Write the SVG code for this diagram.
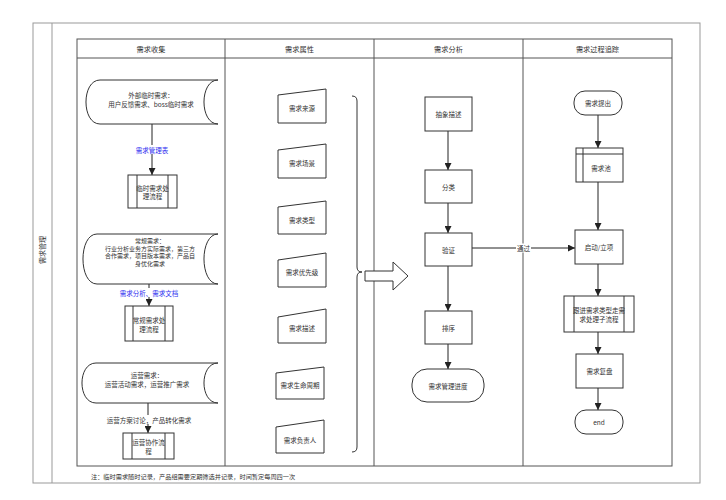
<svg xmlns="http://www.w3.org/2000/svg" width="726" height="500" viewBox="0 0 726 500">
<defs>
<marker id="ah" viewBox="0 0 10 10" refX="10" refY="5" markerWidth="7" markerHeight="7" orient="auto" markerUnits="userSpaceOnUse">
<path d="M0,0 L10,5 L0,10 Z" fill="#222"/>
</marker>
<style>
text{font-family:"Noto Sans CJK SC","Liberation Sans",sans-serif;fill:#333;font-size:6.5px;text-anchor:middle;dominant-baseline:central}
.hd{font-size:7.2px}
.sm{font-size:6px}
.bl{fill:#3030f0}
.sh{fill:#fff;stroke:#333;stroke-width:1}
.ln{stroke:#333;stroke-width:1;fill:none}
.cn{stroke:#222;stroke-width:1;fill:none;marker-end:url(#ah)}
.lane{fill:none;stroke:#555;stroke-width:1}
</style>
</defs>
<rect width="726" height="500" fill="#fff"/>
<g id="pool">
<rect x="33" y="23" width="667" height="460" fill="none" stroke="#999" stroke-width="1"/>
<line x1="52" y1="23" x2="52" y2="483" stroke="#999" stroke-width="1"/>
<text transform="translate(42,250) rotate(-90)" style="font-size:7px">需求管理</text>
</g>
<g id="table">
<rect x="77" y="39" width="595" height="427" class="lane"/>
<line x1="77" y1="58" x2="672" y2="58" class="lane"/>
<line x1="225" y1="39" x2="225" y2="466" class="lane"/>
<line x1="374" y1="39" x2="374" y2="466" class="lane"/>
<line x1="523" y1="39" x2="523" y2="466" class="lane"/>
<text x="151" y="48.5" class="hd">需求收集</text>
<text x="299.5" y="48.5" class="hd">需求属性</text>
<text x="448.5" y="48.5" class="hd">需求分析</text>
<text x="597.5" y="48.5" class="hd">需求过程追踪</text>
</g>
<g id="connectors">
<line x1="152" y1="124" x2="152" y2="175" class="cn"/>
<line x1="149" y1="284" x2="149" y2="306" class="cn"/>
<line x1="148" y1="403" x2="148" y2="433" class="cn"/>
<line x1="448" y1="131" x2="448" y2="170" class="cn"/>
<line x1="448" y1="203" x2="448" y2="233" class="cn"/>
<line x1="448" y1="266" x2="448" y2="311" class="cn"/>
<line x1="448" y1="344" x2="448" y2="369" class="cn"/>
<line x1="472" y1="248" x2="575" y2="248" class="cn"/>
<line x1="598" y1="115" x2="598" y2="148" class="cn"/>
<line x1="598" y1="182" x2="598" y2="230" class="cn"/>
<line x1="598" y1="264" x2="598" y2="296" class="cn"/>
<line x1="598" y1="332" x2="598" y2="354" class="cn"/>
<line x1="598" y1="388" x2="598" y2="410" class="cn"/>
<rect x="133" y="145" width="38" height="9" fill="#fff"/>
<text x="152" y="149.5" class="bl">需求管理表</text>
<rect x="118" y="288" width="62" height="9" fill="#fff"/>
<text x="149" y="292.5" class="bl">需求分析、需求文档</text>
<rect x="105" y="415" width="88" height="9" fill="#fff"/>
<text x="149" y="419.5">运营方案讨论，产品转化需求</text>
<rect x="516" y="243.5" width="15" height="9" fill="#fff"/>
<text x="523.5" y="247.5">通过</text>
</g>
<g id="n-ext">
<path class="sh" d="M100,80 H218 C199.3,80 199.3,124 218,124 H100 C81.3,124 81.3,80 100,80 Z"/>
<text x="151" y="95">外部临时需求：</text>
<text x="151" y="103.5">用户反馈需求、boss临时需求</text>
</g>
<g id="n-tmp">
<rect x="128" y="175" width="49" height="33" class="sh"/>
<line x1="137" y1="175" x2="137" y2="208" class="ln"/>
<line x1="168" y1="175" x2="168" y2="208" class="ln"/>
<text x="152.5" y="187.5">临时需求处</text>
<text x="152.5" y="196">理流程</text>
</g>
<g id="n-reg">
<path class="sh" d="M97,234 H218 C199.3,234 199.3,284 218,284 H97 C78.3,284 78.3,234 97,234 Z"/>
<text x="150" y="240.5" class="sm">常规需求：</text>
<text x="150" y="248" class="sm">行业分析业务方实际需求，第三方</text>
<text x="150" y="255.5" class="sm">合作需求，项目版本需求，产品自</text>
<text x="150" y="263" class="sm">身优化需求</text>
</g>
<g id="n-regp">
<rect x="125" y="306" width="48" height="35" class="sh"/>
<line x1="133" y1="306" x2="133" y2="341" class="ln"/>
<line x1="165" y1="306" x2="165" y2="341" class="ln"/>
<text x="149" y="320">常规需求处</text>
<text x="149" y="328.5">理流程</text>
</g>
<g id="n-ops">
<path class="sh" d="M96,363 H218 C199.3,363 199.3,403 218,403 H96 C77.3,403 77.3,363 96,363 Z"/>
<text x="147" y="375">运营需求：</text>
<text x="147" y="383.5">运营活动需求，运营推广需求</text>
</g>
<g id="n-opsp">
<rect x="123" y="433" width="51" height="26" class="sh"/>
<line x1="132" y1="433" x2="132" y2="459" class="ln"/>
<line x1="165" y1="433" x2="165" y2="459" class="ln"/>
<text x="148.5" y="442">运营协作流</text>
<text x="148.5" y="451">程</text>
</g>
<g id="a-src"><polygon class="sh" points="278,95 326,89 326,123 278,123"/><text x="302" y="108">需求来源</text></g>
<g id="a-scene"><polygon class="sh" points="278,150 326,144 326,178 278,178"/><text x="302" y="163">需求场景</text></g>
<g id="a-type"><polygon class="sh" points="278,207 326,201 326,234 278,234"/><text x="302" y="220">需求类型</text></g>
<g id="a-pri"><polygon class="sh" points="278,260 326,253 326,287 278,287"/><text x="302" y="272">需求优先级</text></g>
<g id="a-desc"><polygon class="sh" points="278,317 326,309 326,343 278,343"/><text x="302" y="328">需求描述</text></g>
<g id="a-life"><polygon class="sh" points="276,373 324,367 324,399 276,399"/><text x="300" y="385">需求生命周期</text></g>
<g id="a-owner"><polygon class="sh" points="276,427 324,420 324,453 276,453"/><text x="300" y="440">需求负责人</text></g>
<g id="brace">
<path class="ln" d="M352,96 Q357,96 357,101 V267 Q357,272 362,272 Q357,272 357,277 V447 Q357,452 352,452"/>
</g>
<g id="bigarrow">
<polygon points="365,271 393,271 393,262 408,276 393,290 393,281 365,281" fill="#fff" stroke="#333" stroke-width="1"/>
</g>
<g id="n-abs"><rect x="425" y="97" width="47" height="34" class="sh"/><text x="448.5" y="114">抽象描述</text></g>
<g id="n-cls"><rect x="425" y="170" width="47" height="33" class="sh"/><text x="448.5" y="186.5">分类</text></g>
<g id="n-ver"><rect x="425" y="233" width="47" height="33" class="sh"/><text x="448.5" y="249.5">验证</text></g>
<g id="n-sort"><rect x="425" y="311" width="47" height="33" class="sh"/><text x="448.5" y="327.5">排序</text></g>
<g id="n-prog"><rect x="412" y="369" width="72" height="33" rx="15" class="sh"/><text x="448" y="385.5">需求管理进度</text></g>
<g id="n-raise"><rect x="574" y="91" width="48" height="24" rx="11" class="sh"/><text x="598" y="103">需求提出</text></g>
<g id="n-pool">
<rect x="576" y="148" width="47" height="34" class="sh"/>
<line x1="576" y1="154" x2="623" y2="154" class="ln"/>
<line x1="583" y1="148" x2="583" y2="182" class="ln"/>
<text x="601" y="168">需求池</text>
</g>
<g id="n-start"><rect x="575" y="230" width="48" height="34" class="sh"/><text x="599" y="247">启动/立项</text></g>
<g id="n-follow">
<rect x="564" y="296" width="70" height="36" class="sh"/>
<line x1="574" y1="296" x2="574" y2="332" class="ln"/>
<line x1="624" y1="296" x2="624" y2="332" class="ln"/>
<text x="599" y="310">跟进需求类型走需</text>
<text x="599" y="318.5">求处理子流程</text>
</g>
<g id="n-review"><rect x="576" y="354" width="47" height="34" class="sh"/><text x="599.5" y="371">需求复盘</text></g>
<g id="n-end"><rect x="575" y="410" width="48" height="24" rx="11" class="sh"/><text x="599" y="422">end</text></g>
<g id="note">
<text x="91" y="476" style="text-anchor:start;font-size:6.2px">注：临时需求随时记录，产品组需要定期筛选并记录，时间暂定每周四一次</text>
</g>
</svg>
